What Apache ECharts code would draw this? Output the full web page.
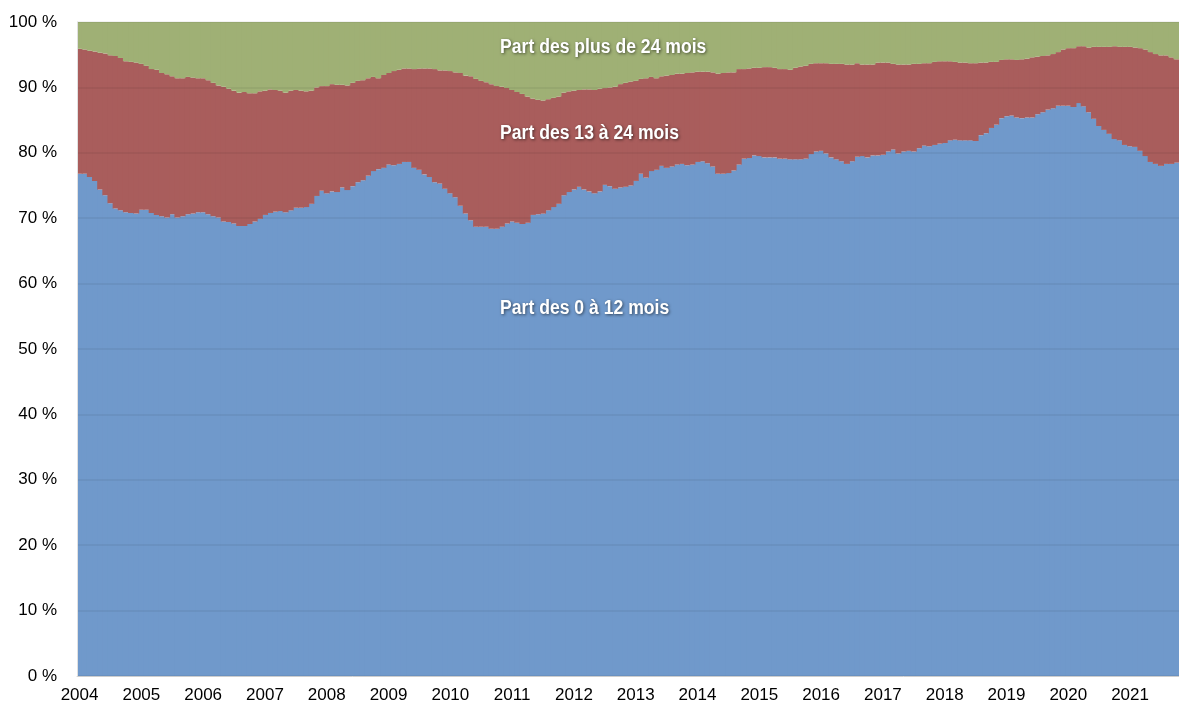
<!DOCTYPE html>
<html>
<head>
<meta charset="utf-8">
<script src="https://cdn.jsdelivr.net/npm/echarts@6/dist/echarts.min.js"></script>
<style>
  html, body { margin: 0; padding: 0; background: #fff; }
  #main { width: 1179px; height: 711px; }
</style>
</head>
<body>
<div id="main"></div>
<script>
// années affichées sur l'axe (un bâton par mois, de janvier 2004 à octobre 2021)
var years = ['2004', '2005', '2006', '2007', '2008', '2009', '2010', '2011', '2012',
  '2013', '2014', '2015', '2016', '2017', '2018', '2019', '2020', '2021'];
var nbMonths = 214;

// part des 0 à 12 mois (%)
var part0_12 = [
  76.8, 76.8, 76.3, 75.7, 74.4, 73.5, 72.3, 71.5, 71.2, 70.9, 70.8, 70.7, 71.3, 71.3, 70.8, 70.5, 70.3, 70.1, 70.6, 70.1, 70.3, 70.6, 70.7, 70.9, 70.9, 70.6, 70.3, 70.1, 69.5, 69.4, 69.2,
  68.8, 68.8, 69.1, 69.5, 69.9, 70.5, 70.8, 71.0, 71.1, 70.9, 71.2, 71.6, 71.6, 71.7, 72.2, 73.4, 74.2, 73.8, 74.1, 74.0, 74.7, 74.3, 74.9, 75.5, 75.8, 76.5, 77.2, 77.5, 77.7, 78.2, 78.1,
  78.3, 78.6, 78.6, 77.7, 77.4, 76.7, 76.3, 75.5, 75.3, 74.5, 73.8, 73.2, 71.9, 70.7, 69.7, 68.7, 68.7, 68.7, 68.4, 68.4, 68.7, 69.2, 69.5, 69.3, 69.1, 69.3, 70.5, 70.6, 70.7, 71.2, 71.7,
  72.2, 73.5, 74.0, 74.4, 74.8, 74.4, 74.1, 73.8, 74.1, 75.1, 74.9, 74.5, 74.7, 74.8, 75.0, 75.7, 76.8, 76.2, 77.2, 77.4, 78.0, 77.7, 77.9, 78.2, 78.3, 78.1, 78.2, 78.6, 78.7, 78.4, 77.9,
  76.8, 76.8, 76.9, 77.3, 78.2, 79.1, 79.2, 79.6, 79.5, 79.3, 79.3, 79.3, 79.1, 79.1, 79.0, 79.0, 79.0, 79.1, 79.8, 80.2, 80.3, 79.9, 79.3, 79.0, 78.7, 78.3, 78.7, 79.4, 79.5, 79.3, 79.6,
  79.6, 79.7, 80.2, 80.5, 79.9, 80.2, 80.3, 80.2, 80.7, 81.1, 81.0, 81.2, 81.4, 81.5, 81.9, 82.0, 81.9, 81.9, 81.9, 81.8, 82.7, 83.0, 83.8, 84.3, 85.3, 85.6, 85.7, 85.4, 85.3, 85.4, 85.4,
  85.9, 86.2, 86.6, 86.8, 87.2, 87.2, 87.2, 87.0, 87.6, 87.1, 86.2, 85.2, 84.1, 83.5, 82.9, 82.1, 81.9, 81.2, 81.0, 80.9, 80.3, 79.5, 78.6, 78.3, 78.0, 78.3, 78.3, 78.5
];

// part cumulée des 0 à 24 mois (%), haut de la bande rouge
var cumul0_24 = [
  95.9, 95.8, 95.6, 95.5, 95.3, 95.2, 94.9, 94.8, 94.5, 94.0, 93.9, 93.8, 93.6, 93.3, 92.8, 92.7, 92.2, 92.0, 91.7, 91.4, 91.4, 91.6, 91.5, 91.4, 91.4, 91.1, 90.7, 90.3, 90.1, 89.8, 89.5,
  89.2, 89.3, 89.1, 89.1, 89.4, 89.5, 89.7, 89.6, 89.5, 89.2, 89.5, 89.6, 89.5, 89.4, 89.5, 90.0, 90.2, 90.2, 90.5, 90.4, 90.4, 90.3, 90.7, 91.0, 91.1, 91.4, 91.6, 91.4, 91.9, 92.2, 92.5,
  92.7, 92.9, 92.9, 92.8, 92.9, 92.9, 92.9, 92.8, 92.6, 92.6, 92.5, 92.3, 92.2, 91.8, 91.7, 91.3, 91.0, 90.8, 90.5, 90.2, 90.1, 89.9, 89.6, 89.3, 89.0, 88.6, 88.3, 88.1, 88.0, 88.2, 88.4,
  88.6, 89.2, 89.4, 89.5, 89.6, 89.7, 89.7, 89.6, 89.8, 89.9, 90.0, 90.1, 90.5, 90.7, 90.9, 91.0, 91.3, 91.4, 91.6, 91.4, 91.7, 91.8, 91.9, 92.1, 92.1, 92.2, 92.3, 92.4, 92.4, 92.4, 92.3,
  92.1, 92.2, 92.3, 92.3, 92.8, 92.8, 92.9, 93.0, 93.0, 93.1, 93.1, 93.0, 92.8, 92.8, 92.7, 93.0, 93.2, 93.3, 93.6, 93.7, 93.7, 93.7, 93.6, 93.6, 93.6, 93.5, 93.5, 93.7, 93.5, 93.5, 93.5,
  93.8, 93.8, 93.8, 93.6, 93.5, 93.5, 93.5, 93.6, 93.6, 93.7, 93.7, 93.9, 94.0, 94.0, 94.0, 93.9, 93.8, 93.8, 93.7, 93.7, 93.8, 93.8, 93.9, 93.9, 94.2, 94.3, 94.3, 94.2, 94.3, 94.4, 94.6,
  94.7, 94.8, 94.9, 95.1, 95.4, 95.8, 96.0, 96.0, 96.3, 96.3, 96.1, 96.2, 96.2, 96.2, 96.2, 96.3, 96.2, 96.2, 96.2, 96.1, 96.0, 95.8, 95.4, 95.1, 94.9, 94.9, 94.6, 94.3
];

var months = [];
for (var i = 0; i < nbMonths; i++) {
  months.push(years[Math.floor(i / 12)] + '-' + ('0' + (i % 12 + 1)).slice(-2));
}
var part13_24 = cumul0_24.map(function (v, i) { return +(v - part0_12[i]).toFixed(1); });
var partPlus24 = cumul0_24.map(function (v) { return +(100 - v).toFixed(1); });

var axisFont = "'Liberation Sans', Arial, sans-serif";
var labelStyle = {
  fill: '#fff',
  font: "bold 20px 'Liberation Sans', Arial, sans-serif",
  textShadowColor: 'rgba(0,0,0,0.55)',
  textShadowBlur: 3,
  textShadowOffsetX: 1,
  textShadowOffsetY: 1,
  textVerticalAlign: 'middle'
};

var myChart = echarts.init(document.getElementById('main'));

var option = {
  animation: false,
  grid: { left: 77, right: 0, top: 22, bottom: 35, containLabel: false },
  xAxis: {
    type: 'category',
    data: months,
    axisLine: { lineStyle: { color: '#d9d9d9' } },
    axisTick: { show: false },
    axisLabel: {
      interval: function (idx) { return idx % 12 === 0; },
      formatter: function (v) { return v.slice(0, 4); },
      color: '#000',
      fontFamily: axisFont,
      fontSize: 17,
      margin: 11
    }
  },
  yAxis: {
    type: 'value',
    min: 0,
    max: 100,
    interval: 10,
    z: 10,
    axisLine: { show: true, lineStyle: { color: '#e0e0e0' } },
    axisLabel: {
      formatter: '{value} %',
      color: '#000',
      fontFamily: axisFont,
      fontSize: 17,
      margin: 20
    },
    splitLine: { lineStyle: { color: 'rgba(0,0,0,0.05)', width: 2 } }
  },
  series: [
    {
      name: 'Part des 0 à 12 mois',
      type: 'bar',
      stack: 'total',
      barWidth: 6,
      data: part0_12,
      itemStyle: { color: '#7099CB' }
    },
    {
      name: 'Part des 13 à 24 mois',
      type: 'bar',
      stack: 'total',
      barWidth: 6,
      data: part13_24,
      itemStyle: { color: '#A95D5C' }
    },
    {
      name: 'Part des plus de 24 mois',
      type: 'bar',
      stack: 'total',
      barWidth: 6,
      data: partPlus24,
      itemStyle: { color: '#9FB075' }
    }
  ],
  graphic: [
    { type: 'text', x: 500, y: 47, scaleX: 0.88, z: 20, style: Object.assign({ text: 'Part des plus de 24 mois' }, labelStyle) },
    { type: 'text', x: 500, y: 133, scaleX: 0.88, z: 20, style: Object.assign({ text: 'Part des 13 à 24 mois' }, labelStyle) },
    { type: 'text', x: 500, y: 308, scaleX: 0.88, z: 20, style: Object.assign({ text: 'Part des 0 à 12 mois' }, labelStyle) }
  ]
};

myChart.setOption(option);
</script>
</body>
</html>
